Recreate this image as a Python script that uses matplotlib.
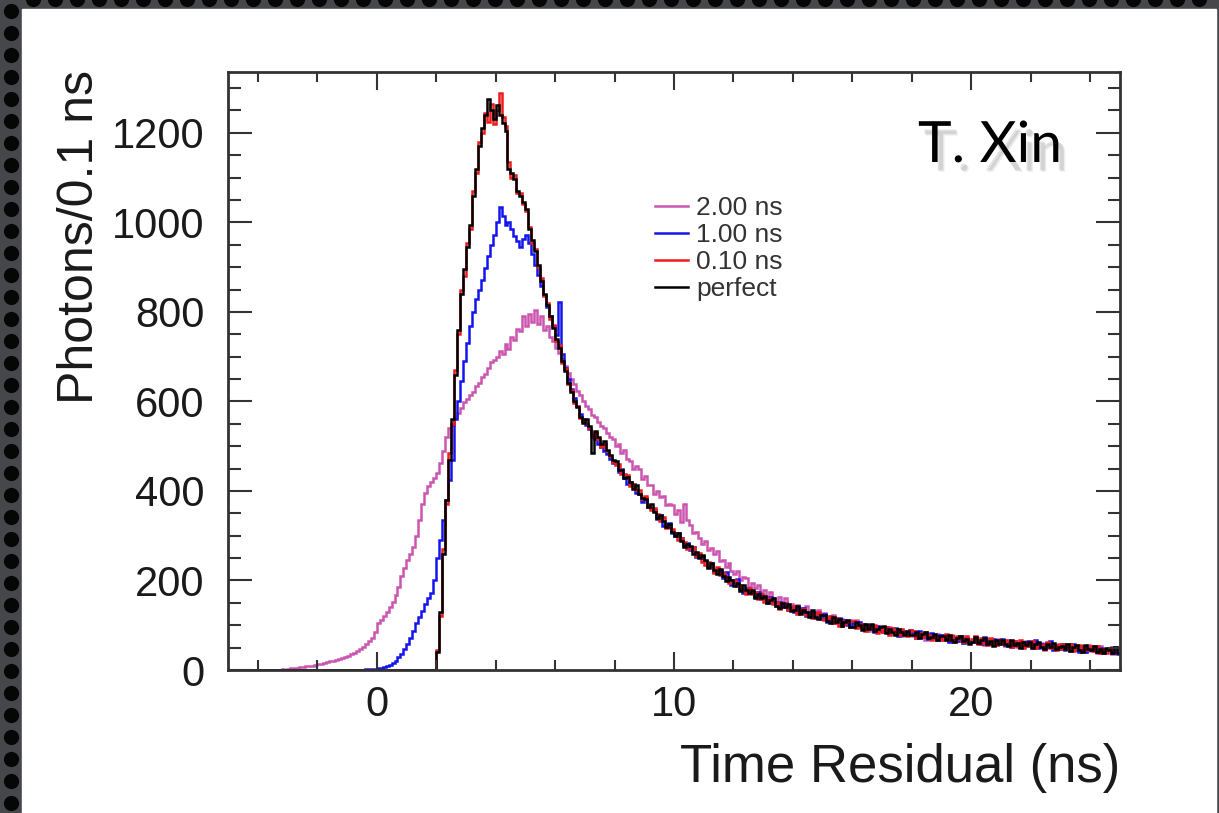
import numpy as np
import matplotlib
matplotlib.use('Agg')
import matplotlib.pyplot as plt
from matplotlib.ticker import MultipleLocator
from matplotlib.patches import Rectangle
import matplotlib.patheffects as pe

plt.rcParams['font.family'] = ['Liberation Sans', 'DejaVu Sans']

# ---------------- data ----------------
bin_width = 0.1
t_min, t_max = -5.0, 25.0

series_labels = ['2.00 ns', '1.00 ns', '0.10 ns', 'perfect']
series_colors = ['#cc55b0', '#1414ee', '#ee1c1c', '#000000']

# 2.00 ns smearing, first bin at -4.0 ns
sigma200_start = -4.0
sigma200_counts = [
    0, 0, 0, 1, 0, 1, 1, 1, 2, 1,
    3, 4, 4, 5, 6, 7, 8, 9, 10, 12,
    13, 14, 16, 17, 19, 21, 23, 25, 27, 29,
    32, 35, 38, 42, 46, 52, 58, 64, 72, 84,
    105, 112, 120, 130, 140, 152, 168, 185, 210, 228,
    245, 260, 275, 300, 335, 370, 395, 410, 420, 430,
    440, 462, 490, 520, 540, 548, 565, 575, 585, 598,
    605, 615, 622, 635, 642, 655, 662, 675, 688, 692,
    700, 712, 705, 728, 718, 745, 738, 762, 758, 790,
    768, 795, 778, 805, 772, 790, 760, 768, 745, 735,
    720, 708, 694, 680, 664, 650, 640, 624, 615, 600,
    590, 582, 570, 566, 555, 545, 540, 530, 520, 515,
    501, 505, 484, 491, 471, 468, 450, 455, 448, 427,
    434, 413, 413, 393, 401, 386, 388, 368, 371, 369,
    349, 357, 331, 370, 335, 325, 306, 309, 294, 281,
    288, 267, 272, 259, 265, 244, 246, 231, 240, 222,
    215, 221, 201, 207, 205, 185, 194, 184, 190, 172,
    178, 164, 174, 160, 153, 162, 152, 160, 143, 148,
    134, 146, 139, 130, 142, 127, 122, 130, 133, 121,
    128, 114, 120, 123, 107, 102, 114, 110, 103, 111,
    97, 111, 96, 101, 103, 88, 98, 89, 99, 89,
    95, 86, 96, 80, 88, 91, 75, 87, 80, 88,
    76, 88, 72, 80, 68, 81, 76, 71, 81, 68,
    78, 69, 64, 78, 72, 64, 77, 61, 69, 62,
    63, 73, 60, 68, 56, 70, 61, 67, 55, 70,
    64, 54, 68, 56, 60, 51, 63, 53, 64, 54,
    50, 62, 52, 60, 45, 56, 61, 46, 52, 48,
    58, 46, 54, 42, 51, 54, 42, 49, 40, 55,
    43, 51, 39, 53, 39, 45, 49, 36, 49, 44,
]

# 1.00 ns smearing, first bin at -1.0 ns
sigma100_start = -1.0
sigma100_counts = [
    0, 0, 0, 1, 1, 1, 2, 2, 3, 3,
    4, 5, 7, 9, 12, 16, 21, 28, 36, 46,
    58, 72, 88, 104, 118, 132, 148, 160, 172, 200,
    250, 290, 335, 380, 425, 470, 560, 600, 645, 690,
    730, 768, 800, 828, 850, 872, 898, 925, 950, 972,
    1000, 1035, 1015, 995, 1000, 985, 970, 958, 945, 962,
    972, 955, 930, 905, 882, 858, 838, 812, 790, 768,
    748, 822, 705, 675, 650, 628, 608, 590, 572, 560,
    548, 538, 524, 516, 505, 498, 490, 482, 472, 462,
    460, 442, 448, 429, 415, 420, 415, 395, 394, 376,
    385, 364, 361, 358, 338, 346, 322, 327, 328, 307,
    299, 306, 294, 276, 283, 269, 275, 253, 255, 254,
    244, 231, 240, 218, 225, 223, 205, 218, 198, 189,
    202, 204, 182, 173, 184, 173, 175, 162, 175, 158,
    164, 149, 163, 149, 143, 153, 141, 150, 133, 140,
    129, 140, 130, 139, 120, 129, 129, 116, 128, 114,
    124, 107, 117, 106, 112, 117, 99, 111, 101, 96,
    104, 95, 107, 95, 89, 101, 95, 85, 99, 87,
    84, 97, 85, 91, 93, 76, 89, 81, 85, 89,
    82, 72, 87, 73, 82, 70, 83, 71, 66, 79,
    79, 69, 63, 76, 72, 64, 77, 61, 71, 65,
    62, 72, 66, 58, 73, 60, 57, 70, 60, 66,
    70, 55, 63, 51, 65, 60, 51, 62, 54, 64,
    54, 68, 49, 58, 49, 60, 64, 44, 55, 47,
    57, 44, 52, 58, 59, 45, 40, 53, 41, 50,
    44, 53, 40, 50, 37, 48, 46, 38, 51, 35,
]

# 0.10 ns smearing, first bin at 2.0 ns
sigma010_start = 2.0
sigma010_counts = [
    45, 120, 270, 370, 485, 550, 670, 750, 850, 880,
    955, 985, 1070, 1110, 1180, 1200, 1245, 1225, 1265, 1220,
    1250, 1290, 1235, 1215, 1135, 1100, 1105, 1065, 1065, 1040,
    1025, 990, 955, 940, 900, 875, 835, 820, 785, 770,
    735, 725, 685, 672, 638, 625, 596, 590, 562, 556,
    552, 540, 520, 530, 515, 498, 505, 490, 478, 465,
    459, 460, 438, 438, 435, 411, 416, 403, 402, 381,
    388, 368, 357, 361, 349, 334, 341, 317, 320, 315,
    306, 290, 296, 287, 270, 270, 275, 255, 261, 242,
    235, 241, 232, 217, 229, 212, 217, 208, 194, 201,
    201, 187, 190, 176, 170, 184, 170, 174, 159, 169,
    152, 161, 161, 147, 151, 137, 149, 150, 134, 137,
    142, 125, 135, 137, 123, 128, 116, 126, 129, 114,
    111, 117, 121, 104, 116, 99, 109, 102, 109, 109,
    110, 94, 99, 102, 88, 99, 91, 100, 83, 93,
    86, 95, 79, 94, 89, 79, 92, 81, 77, 90,
    87, 71, 83, 74, 86, 78, 68, 78, 69, 74,
    66, 81, 68, 75, 62, 76, 70, 62, 75, 63,
    70, 76, 58, 71, 61, 55, 72, 63, 56, 66,
    58, 67, 62, 51, 65, 53, 67, 50, 60, 54,
    64, 49, 59, 55, 47, 62, 49, 54, 44, 57,
    46, 57, 48, 58, 43, 52, 55, 40, 51, 44,
    53, 42, 54, 39, 47, 37, 49, 52, 40, 37,
]

# perfect timing, first bin at 2.0 ns
perfect_start = 2.0
perfect_counts = [
    40, 130, 260, 380, 470, 560, 660, 760, 840, 895,
    945, 995, 1060, 1120, 1170, 1210, 1240, 1275, 1250, 1232,
    1262, 1240, 1222, 1205, 1120, 1110, 1098, 1070, 1060, 1045,
    1030, 985, 960, 935, 905, 870, 840, 815, 790, 765,
    740, 720, 690, 668, 642, 620, 600, 588, 566, 552,
    560, 545, 485, 535, 520, 505, 512, 492, 480, 470,
    468, 447, 447, 428, 432, 420, 405, 413, 394, 384,
    383, 364, 370, 354, 339, 347, 333, 319, 326, 308,
    299, 305, 288, 275, 282, 278, 259, 263, 250, 257,
    246, 228, 238, 223, 215, 225, 210, 199, 207, 200,
    188, 195, 177, 190, 179, 171, 179, 161, 169, 161,
    165, 150, 156, 160, 144, 138, 150, 140, 147, 132,
    133, 142, 124, 134, 129, 119, 133, 118, 114, 123,
    122, 110, 106, 119, 108, 113, 99, 108, 111, 97,
    97, 107, 100, 89, 102, 92, 103, 87, 91, 96,
    98, 83, 91, 85, 78, 92, 85, 78, 88, 78,
    78, 85, 71, 81, 85, 71, 74, 81, 68, 76,
    77, 66, 79, 67, 63, 71, 77, 64, 70, 59,
    63, 73, 60, 67, 72, 57, 64, 54, 68, 59,
    67, 58, 53, 68, 55, 61, 50, 62, 56, 63,
    50, 59, 63, 51, 47, 59, 51, 61, 47, 52,
    54, 46, 57, 42, 51, 55, 44, 41, 55, 46,
    45, 54, 40, 48, 38, 49, 45, 39, 52, 39,
]

x_major_ticks = [0, 10, 20]
y_major_ticks = [0, 200, 400, 600, 800, 1000, 1200]
x_label = 'Time Residual (ns)'
y_label = 'Photons/0.1 ns'
author_text = 'T. Xin'

# ---------------- build histograms ----------------
n_bins = int(round((t_max - t_min) / bin_width))
edges = t_min + bin_width * np.arange(n_bins + 1)


def full_hist(start, vals):
    h = np.zeros(n_bins)
    i0 = int(round((start - t_min) / bin_width))
    h[i0:i0 + len(vals)] = vals
    return h


hists = [full_hist(sigma200_start, sigma200_counts),
         full_hist(sigma100_start, sigma100_counts),
         full_hist(sigma010_start, sigma010_counts),
         full_hist(perfect_start, perfect_counts)]

# ---------------- figure ----------------
W, H = 1219, 813
fig = plt.figure(figsize=(W / 100, H / 100), dpi=100)

# slide background with dotted frame
bg = fig.add_axes([0, 0, 1, 1], zorder=-10)
bg.set_xlim(0, W)
bg.set_ylim(H, 0)
bg.axis('off')
bg.add_patch(Rectangle((0, 0), W, H, color='#45474a'))
bg.add_patch(Rectangle((22, 9), 1194, H - 9, color='white'))
dy = np.arange(11, H + 11, 22)
bg.scatter(np.full(len(dy), 11), dy, s=120, color='#060606', linewidths=0)
dx = np.arange(33, W, 22)
bg.scatter(dx, np.full(len(dx), -1), s=120, color='#060606', linewidths=0)

ax = fig.add_axes([228 / W, (H - 670) / H, (1120 - 228) / W, (670 - 72) / H])
ax.set_facecolor('white')

for h, c, lab in zip(hists, series_colors, series_labels):
    ax.stairs(h, edges, color=c, lw=1.8, label=lab, baseline=None)

ax.set_xlim(t_min, t_max)
ax.set_ylim(0, 1336)
ax.set_xticks(x_major_ticks)
ax.set_yticks(y_major_ticks)
ax.xaxis.set_minor_locator(MultipleLocator(2))
ax.yaxis.set_minor_locator(MultipleLocator(50))

for s in ax.spines.values():
    s.set_linewidth(2.0)
    s.set_color('#333333')

ax.tick_params(which='both', direction='in', top=True, right=True,
               width=1.5, color='#333333', labelcolor='#1a1a1a')
ax.tick_params(axis='y', which='major', length=17, pad=17, labelsize=30)
ax.tick_params(axis='y', which='minor', length=9)
ax.tick_params(axis='x', which='major', length=13, pad=11, labelsize=30)
ax.tick_params(axis='x', which='minor', length=7)

fig.text(1120 / W, (H - 782) / H, x_label, ha='right', va='baseline',
         fontsize=38, color='#1a1a1a')
fig.text(80 / W, (H - 70) / H, y_label, rotation=90, ha='center', va='top',
         fontsize=36, color='#1a1a1a')

leg = ax.legend(loc='upper left', bbox_to_anchor=((655 - 228) / 892, (670 - 196) / 598),
                frameon=False, fontsize=19, handlelength=1.25, handletextpad=0.3,
                labelspacing=0.12, borderpad=0, borderaxespad=0)
for t in leg.get_texts():
    t.set_color('#333333')

# author tag with a soft drop shadow (path effects, single text object)
fig.text(918 / W, (H - 162) / H, author_text, ha='left', va='baseline',
         fontsize=41, fontfamily=['Lato', 'DejaVu Sans'], color='black',
         path_effects=[pe.SimplePatchShadow(offset=(4, -6), shadow_rgbFace='#666666', alpha=0.18),
                       pe.SimplePatchShadow(offset=(5, -7), shadow_rgbFace='#666666', alpha=0.12),
                       pe.Normal()])

fig.savefig('out.png', dpi=100)
